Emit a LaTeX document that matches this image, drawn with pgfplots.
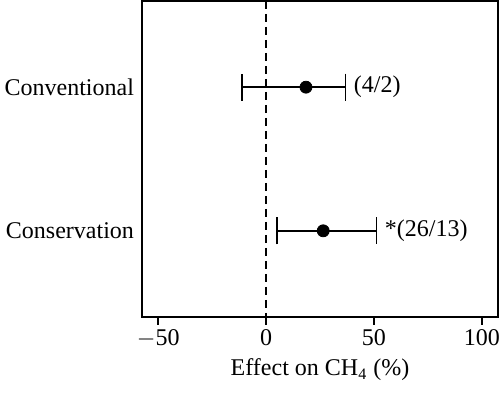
\documentclass[border=0pt]{standalone}
\usepackage{fontspec}
\setmainfont{Liberation Serif}
\usepackage{pgfplots}
\pgfplotsset{compat=1.18}
\begin{document}
\begin{tikzpicture}
\begin{axis}[
  scale only axis, width=178pt, height=158pt,
  xmin=-57.5, xmax=107.5, ymin=0.4, ymax=2.6,
  y dir=reverse,
  axis line style={line width=1pt},
  xtick={-50,0,50,100},
  xticklabels={$-$50,0,50,100},
  ytick={1,2}, yticklabels={Conventional,Conservation},
  ytick style={draw=none},
  xtick style={line width=1pt, black},
  tick align=outside, major tick length=4pt,
  tick label style={font=\fontsize{12}{14}\selectfont},
  label style={font=\fontsize{12}{14}\selectfont},
  /pgf/number format/assume math mode=true,
  yticklabel style={xshift=3.5pt},
  xticklabel style={yshift=1.5pt},
  xlabel={Effect on CH\textsubscript{4} (\%)},
  xlabel style={yshift=1pt},
  clip=false,
]
\addplot[black, line width=0.9pt, dash pattern=on 4pt off 2.5pt] coordinates {(0,0.4) (0,2.6)};
\addplot[black, only marks, mark=*, mark size=3pt,
  error bars/.cd, x dir=both, x explicit,
  error bar style={line width=0.9pt},
  error mark options={rotate=90, mark size=6.75pt, line width=0.9pt}]
  coordinates {
  (18.5,1) -= (29.8,0) += (18.3,0)
  (26.5,2) -= (21.6,0) += (24.7,0)
  };
\node[anchor=west, font=\fontsize{12}{14}\selectfont, inner sep=0pt] at (axis cs:36.8,1) {\hspace{4pt}(4/2)};
\node[anchor=west, font=\fontsize{12}{14}\selectfont, inner sep=0pt] at (axis cs:51.2,2) {\hspace{4pt}*(26/13)};
\end{axis}
\pgfresetboundingbox
\path ([shift={(-71pt,-38pt)}]current axis.south west) rectangle ([shift={(1pt,0.5pt)}]current axis.north east);
\end{tikzpicture}
\end{document}
